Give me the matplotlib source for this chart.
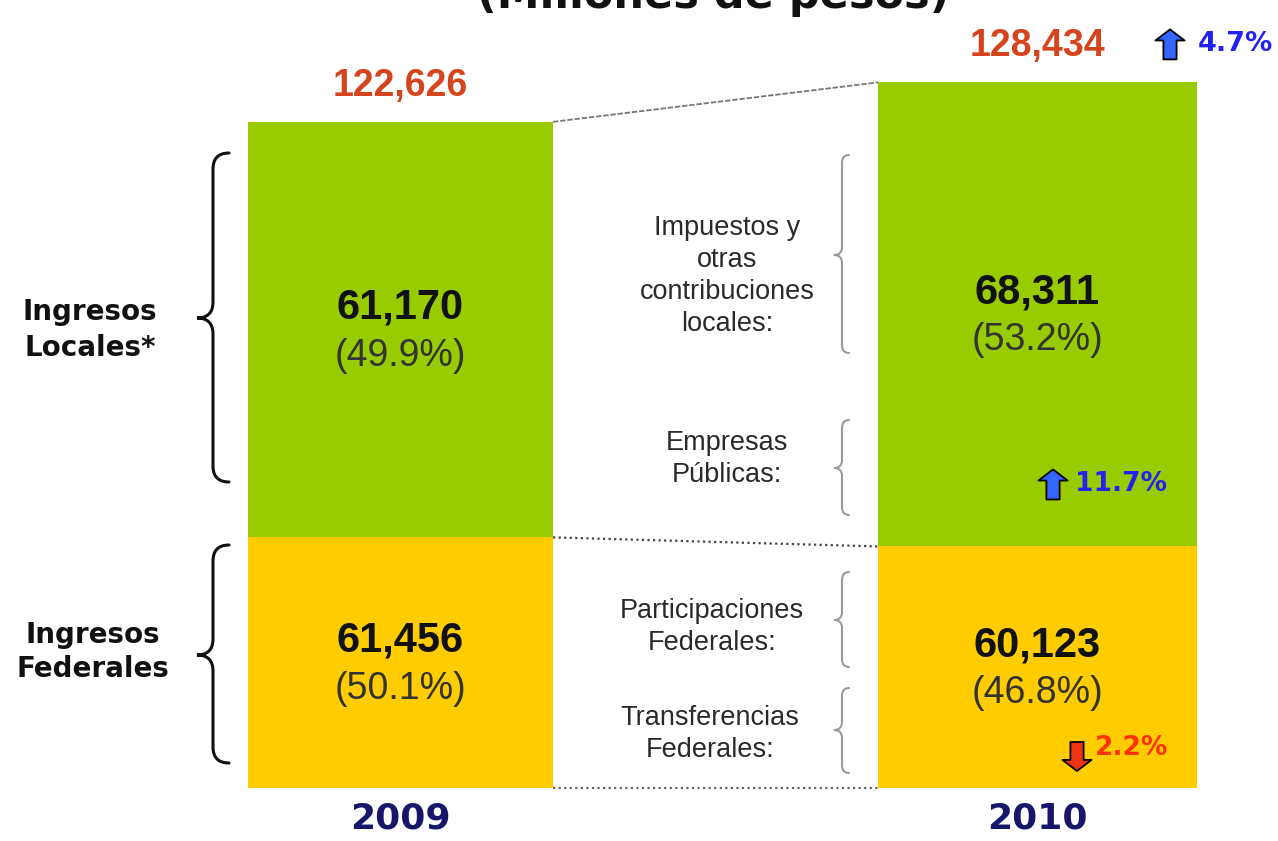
import matplotlib
matplotlib.use("Agg")
import matplotlib.pyplot as plt
from matplotlib.path import Path
from matplotlib.patches import PathPatch
from matplotlib.transforms import offset_copy


# datos (millones de pesos)
years = ["2009", "2010"]
federales = [61456, 60123]
locales = [61170, 68311]
totales = [122626, 128434]
pct_locales = ["(49.9%)", "(53.2%)"]
pct_federales = ["(50.1%)", "(46.8%)"]
cambio_total = "4.7%"
cambio_locales = "11.7%"
cambio_federales = "2.2%"

sub_locales = ["Impuestos y\notras\ncontribuciones\nlocales:", "Empresas\nPúblicas:"]
sub_federales = ["Participaciones\nFederales:", "Transferencias\nFederales:"]

GREEN = "#99CC00"
YELLOW = "#FFCC00"
NAVY = "#16166B"
ORANGE = "#D5441C"
BLUE = "#2222F0"
W, H = 1278, 841

fig = plt.figure(figsize=(W / 100, H / 100), dpi=100)

ax = fig.add_axes([0, 53 / H, 1, 788 / H])
ax.set_xlim(0, W)
ax.set_ylim(24566, 140561)  # eje truncado como en la lamina original
for s in ax.spines.values():
    s.set_visible(False)
ax.set_yticks([])

xc = [400.5, 1037.5]
widths = [305, 319]
ax.bar(xc, federales, width=widths, color=YELLOW, zorder=2)
ax.bar(xc, locales, width=widths, bottom=federales, color=GREEN, zorder=2)

ax.set_xticks(xc)
ax.set_xticklabels(years, fontsize=26, fontweight="bold", color=NAVY,
                   family="DejaVu Sans")
ax.tick_params(axis="x", length=0, pad=10)


def at(dx, dy):
    return offset_copy(ax.transData, fig=fig, x=dx, y=dy, units="dots")


ylo = ax.get_ylim()[0]
x_r = xc[0] + widths[0] / 2
x_l = xc[1] - widths[1] / 2

# lineas de conexion entre barras
ax.plot([x_r, x_l], totales, color="#777777", lw=1.3, ls=(0, (3, 1)), zorder=1)
ax.plot([x_r, x_l], federales, color="#444444", lw=1.6, ls=(0, (1, 1.5)), zorder=1)
ax.plot([x_r, x_l], [ylo, ylo], color="#666666", lw=1.6, ls=(0, (1, 1.5)),
        zorder=1, clip_on=False)

# etiquetas dentro de las barras
for i in range(2):
    mid_f = (ylo + federales[i]) / 2
    mid_l = federales[i] + locales[i] / 2
    for mid, val, pct in [(mid_f, federales[i], pct_federales[i]),
                          (mid_l, locales[i], pct_locales[i])]:
        ax.text(xc[i], mid, f"{val:,}", transform=at(0, 22), ha="center",
                va="center", fontsize=30, fontweight="bold", color="#111111",
                family="Liberation Sans", zorder=3)
        ax.text(xc[i], mid, pct, transform=at(0, -26), ha="center",
                va="center", fontsize=27, color="#333333",
                family="Liberation Sans", zorder=3)
    ax.text(xc[i], totales[i], f"{totales[i]:,}", transform=at(0, 36),
            ha="center", va="center", fontsize=27, fontweight="bold",
            color=ORANGE, family="Liberation Sans", zorder=3)


def block_arrow(x, y, dx, dy_tail, dy_tip, fc):
    ax.annotate("", xy=(x, y), xycoords=at(dx, dy_tip),
                xytext=(x, y), textcoords=at(dx, dy_tail),
                arrowprops=dict(arrowstyle="simple,head_length=0.8,head_width=2.1,tail_width=0.95",
                                fc=fc, ec="black", lw=1.3, shrinkA=0, shrinkB=0,
                                mutation_scale=10),
                zorder=4)


# variaciones
block_arrow(xc[1], totales[1], 132.5, 23, 53, "#3366FF")
ax.text(xc[1], totales[1], cambio_total, transform=at(160, 38), ha="left",
        va="center", fontsize=19.5, fontweight="bold", color=BLUE,
        family="DejaVu Sans", zorder=4)

block_arrow(xc[1], federales[1], 15.5, 47, 77, "#3366FF")
ax.text(xc[1], federales[1], cambio_locales, transform=at(38, 62), ha="left",
        va="center", fontsize=19, fontweight="bold", color=BLUE,
        family="DejaVu Sans", zorder=4)

block_arrow(xc[1], ylo, 39.5, 46, 17, "#EE3311")
ax.text(xc[1], ylo, cambio_federales, transform=at(57, 40), ha="left",
        va="center", fontsize=19, fontweight="bold", color="#FF3300",
        family="DejaVu Sans", zorder=4)

# capa de anotaciones en pixeles
deco = fig.add_axes([0, 0, 1, 1])
deco.set_xlim(0, W)
deco.set_ylim(H, 0)
deco.axis("off")


def brace(x_tip, x_line, x_end, y0, y1, yc, r, **kw):
    verts = [(x_end, y0), (x_line, y0), (x_line, y0 + r),
             (x_line, yc - r), (x_line, yc), (x_tip, yc),
             (x_line, yc), (x_line, yc + r),
             (x_line, y1 - r), (x_line, y1), (x_end, y1)]
    codes = [Path.MOVETO, Path.CURVE3, Path.CURVE3,
             Path.LINETO, Path.CURVE3, Path.CURVE3,
             Path.CURVE3, Path.CURVE3,
             Path.LINETO, Path.CURVE3, Path.CURVE3]
    deco.add_patch(PathPatch(Path(verts, codes), fc="none", capstyle="round", **kw))


brace(197, 213, 229, 153, 482, 318, 16, ec="#111111", lw=2.2)
brace(197, 213, 229, 545, 763, 655, 16, ec="#111111", lw=2.2)
for y0, y1, yc in [(155, 353, 255), (420, 515, 468), (572, 667, 620), (688, 773, 730)]:
    brace(834, 842, 849, y0, y1, yc, 8, ec="#9a9a9a", lw=1.5)

deco.text(90, 330, "Ingresos\nLocales*", ha="center", va="center",
          fontsize=20, fontweight="bold", color="#111111",
          family="DejaVu Sans", linespacing=1.4)
deco.text(93, 652, "Ingresos\nFederales", ha="center", va="center",
          fontsize=20, fontweight="bold", color="#111111",
          family="DejaVu Sans", linespacing=1.25)

for (x, y), s in zip([(727, 276), (727, 459)], sub_locales):
    deco.text(x, y, s, ha="center", va="center", fontsize=19.5,
              color="#2a2a2a", family="Liberation Sans", linespacing=1.3)
for (x, y), s in zip([(712, 627), (710, 734)], sub_federales):
    deco.text(x, y, s, ha="center", va="center", fontsize=19.5,
              color="#2a2a2a", family="Liberation Sans", linespacing=1.3)

# titulo cortado en la parte superior, como en la lamina
deco.text(713, 8, "(Millones de pesos)", ha="center", va="baseline",
          fontsize=31, fontweight="bold", color="#111111", family="DejaVu Sans")

fig.savefig("out.png", dpi=100)
